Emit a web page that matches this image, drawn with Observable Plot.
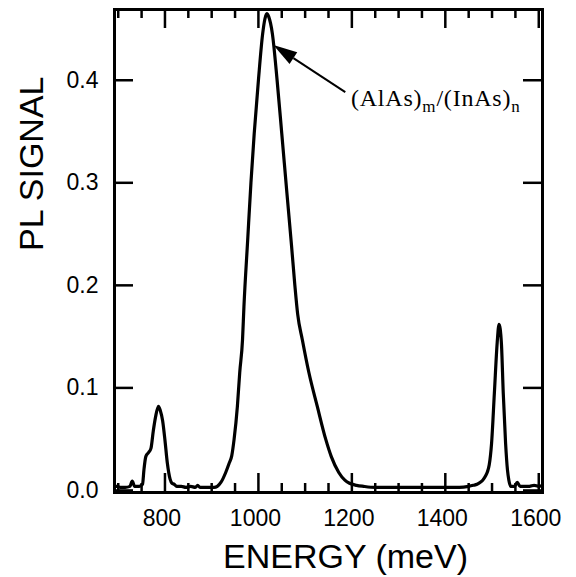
<!DOCTYPE html>
<html><head><meta charset="utf-8">
<script src="https://cdn.jsdelivr.net/npm/d3@7"></script>
<script src="https://cdn.jsdelivr.net/npm/@observablehq/plot@0.6"></script>
<style>body{margin:0;background:#fff}</style>
</head><body><div id="chart"></div>
<script>
// PL spectrum
const energy = [692, 698, 705, 715, 725, 730, 735, 745, 752, 755, 759, 765, 770, 775, 780, 786, 790, 795, 800, 805, 811, 815, 820, 825, 835, 845, 855, 865, 870, 875, 885, 895, 905, 912, 920, 930, 937, 943, 948, 955, 960, 966, 969, 977, 984, 991, 1000, 1009, 1014, 1018, 1022, 1030, 1040, 1050, 1061, 1071, 1078, 1084, 1094, 1108, 1126, 1144, 1156, 1172, 1185, 1195, 1210, 1225, 1250, 1300, 1350, 1400, 1430, 1450, 1460, 1468, 1475, 1480, 1486, 1490, 1494, 1499, 1505, 1511, 1515, 1520, 1524, 1529, 1533, 1536, 1540, 1548, 1554, 1560, 1570, 1580, 1590, 1600, 1607];
const signal = [0.004, 0.004, 0.003, 0.003, 0.004, 0.009, 0.004, 0.004, 0.006, 0.020, 0.033, 0.037, 0.041, 0.058, 0.072, 0.082, 0.078, 0.068, 0.049, 0.027, 0.011, 0.007, 0.006, 0.004, 0.004, 0.003, 0.004, 0.003, 0.005, 0.003, 0.003, 0.003, 0.003, 0.004, 0.008, 0.0175, 0.026, 0.034, 0.050, 0.082, 0.115, 0.147, 0.179, 0.244, 0.300, 0.348, 0.400, 0.445, 0.460, 0.465, 0.462, 0.445, 0.400, 0.348, 0.290, 0.238, 0.200, 0.172, 0.147, 0.115, 0.082, 0.050, 0.033, 0.0175, 0.010, 0.007, 0.005, 0.004, 0.003, 0.003, 0.003, 0.003, 0.003, 0.004, 0.005, 0.006, 0.008, 0.010, 0.014, 0.018, 0.025, 0.046, 0.095, 0.144, 0.162, 0.144, 0.095, 0.046, 0.020, 0.010, 0.004, 0.004, 0.008, 0.004, 0.004, 0.004, 0.005, 0.004, 0.005];

const xMajorTicks = [800, 1000, 1200, 1400, 1600];
const xMinorTicks = [700, 750, 850, 900, 950, 1050, 1100, 1150, 1250, 1300, 1350, 1450, 1500, 1550];
const yTicks = [0, 0.1, 0.2, 0.3, 0.4];
const xTitle = "ENERGY (meV)";
const yTitle = "PL SIGNAL";
// annotation: label parts and anchor points in data units
const labelParts = [["(AlAs)", false], ["m", true], ["/(InAs)", false], ["n", true]];
const labelAt = [1199, 0.3745];
const arrowTail = [1187, 0.388];
const arrowTip = [1033, 0.434];

(function () {
const data = energy.map((e, i) => ({energy: e, signal: signal[i]}));
const W = 576, H = 577, mL = 114, mR = 34, mT = 9, mB = 85;
const xDom = [692, 1608], yDom = [-0.002, 0.469];
const MAJ = 19, MIN = 9, TW = 2.5;
// tick lengths converted from pixels to data units
const ppx = (W - mL - mR) / (xDom[1] - xDom[0]);
const ppy = (H - mT - mB) / (yDom[1] - yDom[0]);
const tickRules = [
  Plot.ruleX(xMajorTicks, {x: d => d, y1: yDom[0], y2: yDom[0] + MAJ / ppy, strokeWidth: TW}),
  Plot.ruleX(xMajorTicks, {x: d => d, y1: yDom[1], y2: yDom[1] - MAJ / ppy, strokeWidth: TW}),
  Plot.ruleX(xMinorTicks, {x: d => d, y1: yDom[0], y2: yDom[0] + MIN / ppy, strokeWidth: TW}),
  Plot.ruleX(xMinorTicks, {x: d => d, y1: yDom[1], y2: yDom[1] - MIN / ppy, strokeWidth: TW}),
  Plot.ruleY(yTicks, {y: d => d, x1: xDom[0], x2: xDom[0] + MAJ / ppx, strokeWidth: TW}),
  Plot.ruleY(yTicks, {y: d => d, x1: xDom[1], x2: xDom[1] - MAJ / ppx, strokeWidth: TW})
];

const plot = Plot.plot({
  width: W, height: H,
  marginLeft: mL, marginRight: mR, marginTop: mT, marginBottom: mB,
  style: {fontFamily: "'Liberation Sans', Arial, sans-serif", background: "#fff", color: "#000"},
  x: {domain: xDom},
  y: {domain: yDom},
  marks: [
    Plot.line(data, {x: "energy", y: "signal", stroke: "#000", strokeWidth: 3.2, curve: "monotone-x", strokeLinejoin: "round"}),
    ...tickRules,
    Plot.axisX(xMajorTicks, {tickSize: 0, tickPadding: 17, fontSize: 23, dx: -3, tickFormat: d3.format("d"), label: null}),
    Plot.axisY(yTicks, {tickSize: 0, tickPadding: 16, fontSize: 23, tickFormat: d3.format(".1f"), label: null}),
    Plot.frame({strokeWidth: 3}),
    Plot.text([xTitle], {text: d => d, frameAnchor: "bottom", lineAnchor: "middle", dy: 65, dx: 17, fontSize: 34, letterSpacing: 0.5}),
    Plot.text([yTitle], {text: d => d, frameAnchor: "left", lineAnchor: "middle", rotate: -90, dx: -82, fontSize: 34, letterSpacing: 1})
  ]
});
document.getElementById("chart").appendChild(plot);

const sx = plot.scale("x"), sy = plot.scale("y");
const svg = d3.select(plot);

// annotation with filled arrowhead and subscripts
const tx = sx.apply(arrowTip[0]), ty = sy.apply(arrowTip[1]);
const ax = sx.apply(arrowTail[0]), ay = sy.apply(arrowTail[1]);
const dxv = ax - tx, dyv = ay - ty, dist = Math.hypot(dxv, dyv);
const ux = dxv / dist, uy = dyv / dist;
const headLen = 24, headHalf = 7;
const bx = tx + ux * headLen, by = ty + uy * headLen;
svg.append("line").attr("x1", ax).attr("y1", ay).attr("x2", bx).attr("y2", by)
  .attr("stroke", "#000").attr("stroke-width", 2);
svg.append("polygon")
  .attr("points", [[tx, ty], [bx - uy * headHalf, by + ux * headHalf], [bx + uy * headHalf, by - ux * headHalf]].map(p => p.join(",")).join(" "))
  .attr("fill", "#000");
const t = svg.append("text")
  .attr("x", sx.apply(labelAt[0])).attr("y", sy.apply(labelAt[1]))
  .attr("text-anchor", "start")
  .attr("font-family", "'Liberation Serif', 'Times New Roman', serif")
  .attr("font-size", 24).attr("letter-spacing", 0.8).attr("fill", "#000");
let sub = false;
labelParts.forEach(([s, isSub]) => {
  const ts = t.append("tspan").text(s);
  if (isSub !== sub) ts.attr("dy", isSub ? 6 : -6);
  if (isSub) ts.attr("font-size", 17);
  sub = isSub;
});
})();
</script>
</body></html>
